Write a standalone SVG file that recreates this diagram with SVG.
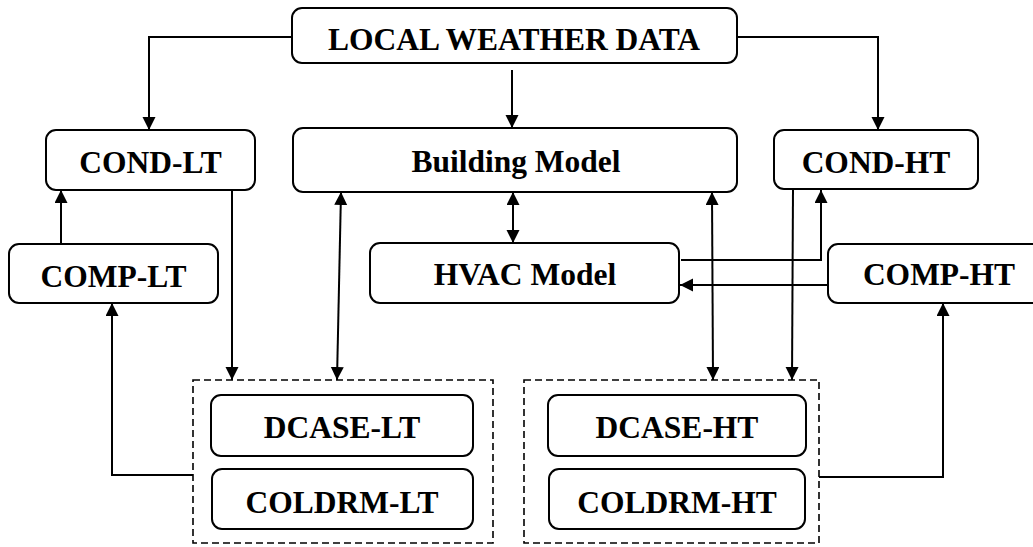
<svg xmlns="http://www.w3.org/2000/svg" width="1033" height="547" viewBox="0 0 1033 547">
  <style>
    .box { fill: #fff; stroke: #000; stroke-width: 2; }
    .grp { fill: none; stroke: #000; stroke-width: 1.6; stroke-dasharray: 7 4; }
    .lbl { font-family: "Liberation Serif", "Times New Roman", serif; font-weight: bold; font-size: 31.5px; fill: #000; text-anchor: middle; }
    .wire { fill: none; stroke: #000; stroke-width: 2; }
    .fwd { marker-end: url(#tip); }
    .both { marker-start: url(#tip); marker-end: url(#tip); }
  </style>
  <defs>
    <marker id="tip" markerUnits="userSpaceOnUse" markerWidth="14" markerHeight="14" refX="13" refY="6.5" orient="auto-start-reverse">
      <path d="M0,0 L13,6.5 L0,13 z" fill="#000"/>
    </marker>
  </defs>
  <rect width="1033" height="547" fill="#fff"/>

  <g id="connectors">
    <path class="wire fwd" d="M292,37 H149 V130"/>
    <path class="wire fwd" d="M512,70 V128"/>
    <path class="wire fwd" d="M737,37 H878 V130"/>
    <path class="wire fwd" d="M61,244 V190"/>
    <path class="wire fwd" d="M232,190 V380"/>
    <path class="wire both" d="M341,192 L337,380"/>
    <path class="wire both" d="M513,192 V243"/>
    <path class="wire both" d="M712,192 L713,380"/>
    <path class="wire fwd" d="M793,189 L792,380"/>
    <path class="wire fwd" d="M681,260 H821 V190"/>
    <path class="wire fwd" d="M828,285 H680"/>
    <path class="wire fwd" d="M193,475 H112 V303"/>
    <path class="wire fwd" d="M819,477 H943 V303"/>
  </g>

  <g id="weather">
    <rect class="box" x="292" y="8" width="445" height="55" rx="10"/>
    <text class="lbl" x="514" y="50">LOCAL WEATHER DATA</text>
  </g>
  <g id="cond-lt">
    <rect class="box" x="46" y="130" width="209" height="60" rx="10"/>
    <text class="lbl" x="150.5" y="173">COND-LT</text>
  </g>
  <g id="building">
    <rect class="box" x="293" y="128" width="444" height="64" rx="10"/>
    <text class="lbl" x="516" y="172">Building Model</text>
  </g>
  <g id="cond-ht">
    <rect class="box" x="774" y="130" width="204" height="59" rx="10"/>
    <text class="lbl" x="876" y="173">COND-HT</text>
  </g>
  <g id="comp-lt">
    <rect class="box" x="9" y="244" width="209" height="59" rx="10"/>
    <text class="lbl" x="113.5" y="287">COMP-LT</text>
  </g>
  <g id="hvac">
    <rect class="box" x="370" y="243" width="309" height="60" rx="10"/>
    <text class="lbl" x="525" y="285">HVAC Model</text>
  </g>
  <g id="comp-ht">
    <rect class="box" x="828" y="244" width="222" height="59" rx="10"/>
    <text class="lbl" x="939" y="285">COMP-HT</text>
  </g>

  <g id="lt-group">
    <rect class="grp" x="193" y="380" width="300" height="163"/>
    <g id="dcase-lt">
      <rect class="box" x="211" y="395" width="262" height="61" rx="10"/>
      <text class="lbl" x="342" y="438">DCASE-LT</text>
    </g>
    <g id="coldrm-lt">
      <rect class="box" x="212" y="469" width="261" height="60" rx="10"/>
      <text class="lbl" x="342" y="513">COLDRM-LT</text>
    </g>
  </g>

  <g id="ht-group">
    <rect class="grp" x="524" y="380" width="295" height="163"/>
    <g id="dcase-ht">
      <rect class="box" x="548" y="395" width="258" height="61" rx="10"/>
      <text class="lbl" x="677" y="438">DCASE-HT</text>
    </g>
    <g id="coldrm-ht">
      <rect class="box" x="549" y="469" width="256" height="60" rx="10"/>
      <text class="lbl" x="677" y="513">COLDRM-HT</text>
    </g>
  </g>
</svg>
